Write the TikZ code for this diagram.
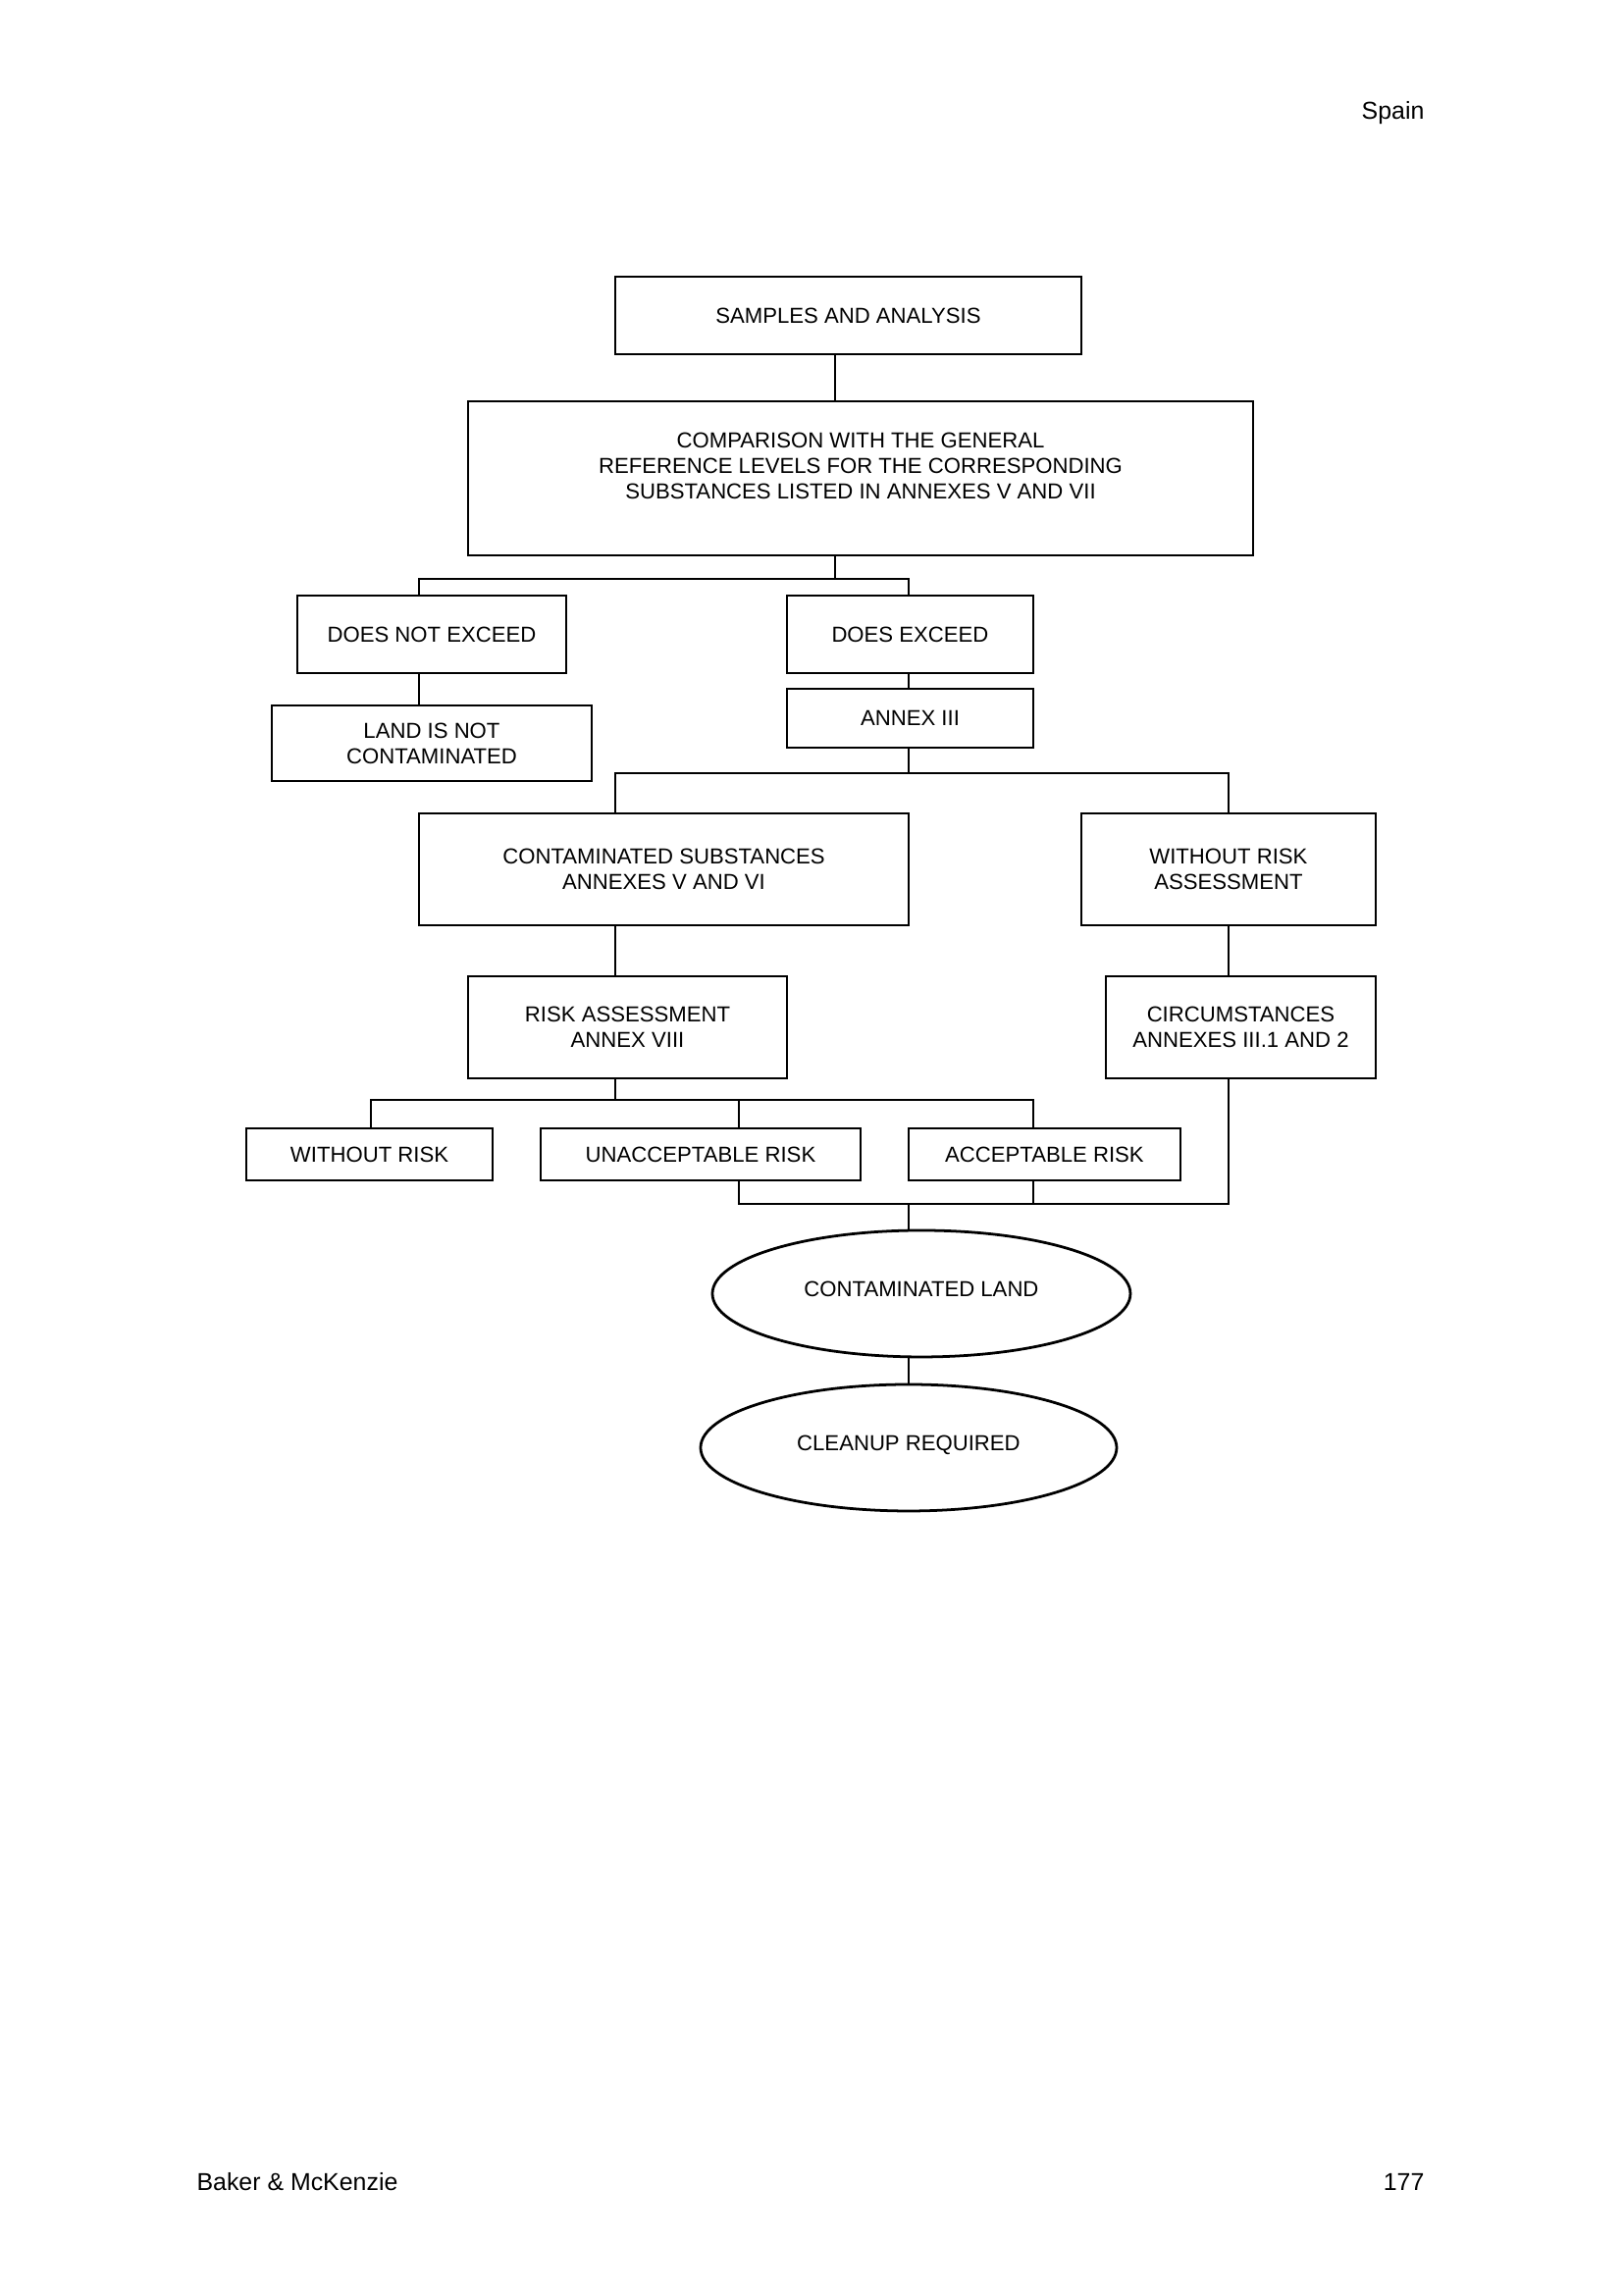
\documentclass[tikz,border=0pt]{standalone}
\usepackage{fontspec}
\setmainfont{Liberation Sans}
\usetikzlibrary{shapes.geometric}

\begin{document}
\begin{tikzpicture}[every node/.style={font=\fontsize{8}{9.4}\selectfont},
    box/.style={draw,line width=1pt,align=center,inner sep=0pt},
    oval/.style={draw,ellipse,line width=1pt,inner sep=0pt,text depth=3.6pt},
    page/.style={font=\fontsize{9}{11}\selectfont,inner sep=0pt},
    link/.style={line width=0.75pt}]
    \useasboundingbox (0,0) rectangle (21.006,29.693);
    \node[page,anchor=east] (hdr) at (18.440,28.232) {Spain};
    \node[page,anchor=west] (ftl) at (2.540,1.448) {Baker \& McKenzie};
    \node[page,anchor=east] (ftr) at (18.440,1.448) {177};
    \node[box,minimum width=6.033cm,minimum height=1.003cm] (samp) at (10.979,25.610) {SAMPLES AND ANALYSIS};
    \node[box,minimum width=10.16cm,minimum height=1.994cm] (cmp) at (11.138,23.501) {};
    \node[align=center] (cmptxt) at (11.138,23.660) {COMPARISON WITH THE GENERAL\\REFERENCE LEVELS FOR THE CORRESPONDING\\SUBSTANCES LISTED IN ANNEXES V AND VII};
    \node[box,minimum width=3.480cm,minimum height=1.003cm] (dne) at (5.588,21.482) {DOES NOT EXCEED};
    \node[box,minimum width=3.188cm,minimum height=1.003cm] (de) at (11.779,21.482) {DOES EXCEED};
    \node[box,minimum width=4.140cm,minimum height=0.978cm] (land) at (5.588,20.072) {LAND IS NOT\\CONTAMINATED};
    \node[box,minimum width=3.188cm,minimum height=0.762cm] (annex) at (11.779,20.396) {ANNEX III};
    \node[box,minimum width=6.337cm,minimum height=1.448cm] (cs) at (8.592,18.440) {CONTAMINATED SUBSTANCES\\ANNEXES V AND VI};
    \node[box,minimum width=3.810cm,minimum height=1.448cm] (wra) at (15.900,18.440) {WITHOUT RISK\\ASSESSMENT};
    \node[box,minimum width=4.128cm,minimum height=1.321cm] (ra) at (8.122,16.396) {RISK ASSESSMENT\\ANNEX VIII};
    \node[box,minimum width=3.493cm,minimum height=1.321cm] (circ) at (16.059,16.396) {CIRCUMSTANCES\\ANNEXES III.1 AND 2};
    \node[box,minimum width=3.188cm,minimum height=0.673cm] (wr) at (4.782,14.751) {WITHOUT RISK};
    \node[box,minimum width=4.140cm,minimum height=0.673cm] (unacc) at (9.068,14.751) {UNACCEPTABLE RISK};
    \node[box,minimum width=3.518cm,minimum height=0.673cm] (acc) at (13.519,14.751) {ACCEPTABLE RISK};
    \node[oval,minimum width=5.410cm,minimum height=1.638cm] (cl) at (11.925,12.948) {CONTAMINATED LAND};
    \node[oval,minimum width=5.385cm,minimum height=1.638cm] (clean) at (11.760,10.954) {CLEANUP REQUIRED};
    \coordinate (b1) at (10.808,22.200);
    \coordinate (b1l) at (5.423,22.200);
    \coordinate (b1r) at (11.760,22.200);
    \draw[link] (samp.south -| b1) -- (cmp.north -| b1);
    \draw[link] (cmp.south -| b1) -- (b1);
    \draw[link] (b1l |- dne.north) -- (b1l) -- (b1r) -- (b1r |- de.north);
    \draw[link] (b1l |- dne.south) -- (b1l |- land.north);
    \draw[link] (b1r |- de.south) -- (b1r |- annex.north);
    \coordinate (b2) at (11.760,19.685);
    \coordinate (b2l) at (7.963,19.685);
    \coordinate (b2r) at (15.900,19.685);
    \draw[link] (annex.south -| b2) -- (b2);
    \draw[link] (b2l |- cs.north) -- (b2l) -- (b2r) -- (b2r |- wra.north);
    \draw[link] (b2l |- cs.south) -- (b2l |- ra.north);
    \draw[link] (b2r |- wra.south) -- (b2r |- circ.north);
    \coordinate (b3) at (7.963,15.456);
    \coordinate (b3l) at (4.801,15.456);
    \coordinate (b3m) at (9.563,15.456);
    \coordinate (b3r) at (13.373,15.456);
    \draw[link] (b3 |- ra.south) -- (b3);
    \draw[link] (b3l |- wr.north) -- (b3l) -- (b3r) -- (b3r |- acc.north);
    \draw[link] (b3m) -- (b3m |- unacc.north);
    \coordinate (b4) at (11.760,14.110);
    \draw[link] (b3m |- unacc.south) |- (b2r |- b4) -- (b2r |- circ.south);
    \draw[link] (b3r |- acc.south) -- (b3r |- b4);
    \draw[link] (b4) -- (b4 |- cl.north);
    \draw[link] (b4 |- cl.south) -- (b4 |- clean.north);
\end{tikzpicture}
\end{document}
